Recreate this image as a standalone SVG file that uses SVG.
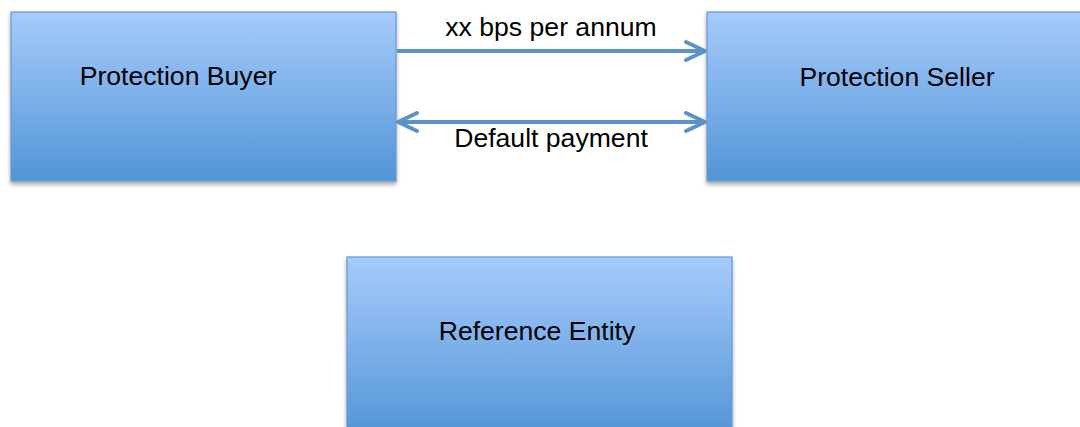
<svg xmlns="http://www.w3.org/2000/svg" width="1080" height="427" viewBox="0 0 1080 427">
<defs>
<linearGradient id="g" x1="0" y1="0" x2="0" y2="1">
<stop offset="0" stop-color="#a7cbfc"/>
<stop offset="1" stop-color="#5195d7"/>
</linearGradient>
<filter id="sh" x="-5%" y="-5%" width="110%" height="120%">
<feGaussianBlur in="SourceAlpha" stdDeviation="2"/>
<feOffset dx="0" dy="3"/>
<feComponentTransfer><feFuncA type="linear" slope="0.35"/></feComponentTransfer>
<feMerge><feMergeNode/><feMergeNode in="SourceGraphic"/></feMerge>
</filter>
<marker id="ah" viewBox="0 0 24 24" refX="21" refY="12" markerWidth="24" markerHeight="24" markerUnits="userSpaceOnUse" orient="auto-start-reverse">
<path d="M2,3 L21,12 L2,21" fill="none" stroke="#5b93c9" stroke-width="4" stroke-linecap="round" stroke-linejoin="round"/>
</marker>
</defs>
<style>
.box{fill:url(#g);stroke:#6a9bd2;stroke-width:1.3;filter:url(#sh)}
.t{font-family:"Liberation Sans",Arial,sans-serif;font-size:26.6px;fill:#000;text-anchor:middle}
.c{stroke:#5b93c9;stroke-width:4;fill:none}
</style>
<rect width="1080" height="427" fill="#fff"/>
<g id="buyer">
<rect class="box" x="11" y="12" width="385" height="169"/>
<text class="t" x="178" y="85">Protection Buyer</text>
</g>
<g id="seller">
<rect class="box" x="707" y="12" width="385" height="169"/>
<text class="t" x="897" y="86">Protection Seller</text>
</g>
<g id="reference">
<rect class="box" x="347" y="257" width="385" height="180"/>
<text class="t" x="537" y="340">Reference Entity</text>
</g>
<g id="connectors">
<line class="c" x1="397" y1="51" x2="705" y2="51" marker-end="url(#ah)"/>
<line class="c" x1="398" y1="122" x2="705" y2="122" marker-start="url(#ah)" marker-end="url(#ah)"/>
<text class="t" x="551" y="36">xx bps per annum</text>
<text class="t" x="551" y="147">Default payment</text>
</g>
</svg>
